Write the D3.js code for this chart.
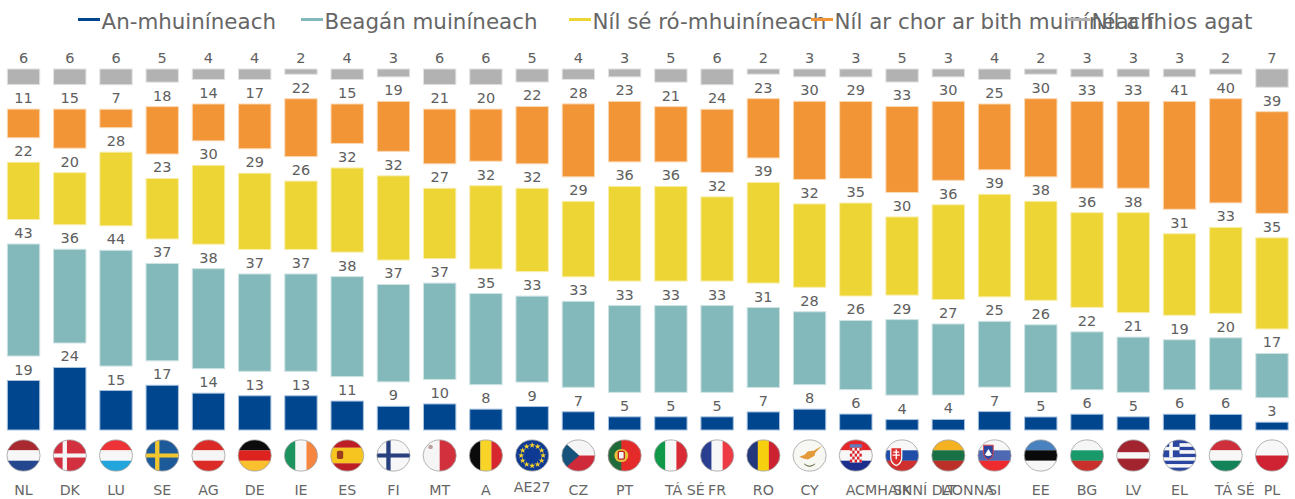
<!DOCTYPE html>
<html><head><meta charset="utf-8">
<script src="https://cdnjs.cloudflare.com/ajax/libs/d3/7.8.5/d3.min.js"></script>
<style>html,body{margin:0;padding:0;background:#fff}svg{display:block}text{font-family:"DejaVu Sans",Verdana,sans-serif}</style>
</head><body><svg id="c" width="1295" height="499"></svg>
<script>
const categories=["NL","DK","LU","SE","AG","DE","IE","ES","FI","MT","A","AE27","CZ","PT","TÁ SÉ","FR","RO","CY","ACMHAINNÍ DAONNA","SK","LT","SI","EE","BG","LV","EL","TÁ SÉ","PL"];
const flagCodes=["nl","dk","lu","se","at","de","ie","es","fi","mt","be","eu","cz","pt","it","fr","ro","cy","hr","sk","lt","si","ee","bg","lv","el","hu","pl"];
const seriesNames=["An-mhuiníneach","Beagán muiníneach","Níl sé ró-mhuiníneach","Níl ar chor ar bith muiníneach","Níl a fhios agat"];
const blue=[19,24,15,17,14,13,13,11,9,10,8,9,7,5,5,5,7,8,6,4,4,7,5,6,5,6,6,3];
const teal=[43,36,44,37,38,37,37,38,37,37,35,33,33,33,33,33,31,28,26,29,27,25,26,22,21,19,20,17];
const yellow=[22,20,28,23,30,29,26,32,32,27,32,32,29,36,36,32,39,32,35,30,36,39,38,36,38,31,33,35];
const orange=[11,15,7,18,14,17,22,15,19,21,20,22,28,23,21,24,23,30,29,33,30,25,30,33,33,41,40,39];
const grey=[6,6,6,5,4,4,2,4,3,6,6,5,4,3,5,6,2,3,3,5,3,4,2,3,3,3,2,7];
const seriesValues=[blue,teal,yellow,orange,grey];
const colors=["#00468f","#84b9bb","#eed536","#f29537","#b2b2b2"];
const edge=["#a9c3df","#cfe3e4","#f8eeae","#fad9b4","#e2e2e2"];
const legendKeyStart=[78,301,569,811,1068];
const labelShift={14:14,18:64,26:9};

const svg=d3.select("#c");
const GAP=9.3;
const x=d3.scaleBand().domain(d3.range(categories.length)).range([0.4,1295.1]).paddingInner(0.3).paddingOuter(0.15);
const y=d3.scaleLinear().domain([0,100+4*GAP]).range([430,69]);
const ink="#5e5e5e";

// stacks
categories.forEach((c,i)=>{
  const vals=seriesValues.map(s=>s[i]);
  const tot=d3.sum(vals);
  let base=0;
  vals.forEach((v,s)=>{
    const h=v*100/tot;
    const top=y(base+h), bot=y(base);
    svg.append("rect").attr("x",x(i)).attr("y",top).attr("width",x.bandwidth()).attr("height",bot-top)
      .attr("fill",colors[s]).attr("stroke",edge[s]).attr("stroke-width",1);
    svg.append("text").attr("x",x(i)+x.bandwidth()/2).attr("y",top-6).attr("text-anchor","middle")
      .attr("font-size",14.5).attr("fill",ink).text(v);
    base+=h+GAP;
  });
});

// legend
const lg=svg.append("g");
seriesNames.forEach((n,i)=>{
  const k=legendKeyStart[i];
  lg.append("text").attr("x",k+23.5).attr("y",29).attr("font-size",21.4).attr("fill","#666").text(n);
});
seriesNames.forEach((n,i)=>{
  const k=legendKeyStart[i];
  lg.append("line").attr("x1",k).attr("x2",k+22).attr("y1",19.5).attr("y2",19.5).attr("stroke",colors[i]).attr("stroke-width",3);
});

// flags
const RX=16.6, RY=15.6, FY=455.5;
const defs=svg.append("defs");
const box=(g,c)=>g.append("rect").attr("x",-1).attr("y",-1).attr("width",2).attr("height",2).attr("fill",c);
const hs=(g,cols,ws)=>{const W=ws||cols.map(()=>1),T=d3.sum(W);let a=-1;cols.forEach((c,i)=>{const h=2*W[i]/T;g.append("rect").attr("x",-1).attr("y",a).attr("width",2).attr("height",h+.01).attr("fill",c);a+=h;});};
const vs=(g,cols)=>{cols.forEach((c,i)=>{const w=2/cols.length;g.append("rect").attr("x",-1+i*w).attr("y",-1).attr("width",w+.01).attr("height",2).attr("fill",c);});};
const cross=(g,bg,inn,cx)=>{
  box(g,bg);
  g.append("rect").attr("x",-1).attr("y",-.13).attr("width",2).attr("height",.26).attr("fill",inn);
  g.append("rect").attr("x",cx-.13).attr("y",-1).attr("width",.26).attr("height",2).attr("fill",inn);
};
const shapes={
 nl:g=>hs(g,["#a82a30","#f7f7f7","#24478f"]),
 dk:g=>cross(g,"#d22f3f","#f5f5f5",-.3),
 lu:g=>hs(g,["#ee3338","#f7f7f7","#22a5dc"]),
 se:g=>cross(g,"#1c5a9a","#f2c62e",-.3),
 at:g=>hs(g,["#dc2b26","#f5f5f5","#dc2b26"]),
 de:g=>hs(g,["#0c0c0c","#dc2320","#fbc02d"]),
 ie:g=>vs(g,["#1d9460","#f7f7f7","#f58540"]),
 es:g=>{hs(g,["#bd1e25","#f7c51f","#bd1e25"],[1,2,1]);g.append("rect").attr("x",-.62).attr("y",-.3).attr("width",.38).attr("height",.52).attr("rx",.1).attr("fill","#9a3b1e");},
 fi:g=>cross(g,"#f7f7f7","#28407e",-.3),
 mt:g=>{vs(g,["#f5f5f5","#d2303c"]);g.append("circle").attr("cx",-.55).attr("cy",-.55).attr("r",.14).attr("fill","#b9a0a0");},
 be:g=>vs(g,["#0b0b0b","#f8d428","#d8282f"]),
 eu:g=>{box(g,"#0f3a94");
   const st=d3.symbol().type(d3.symbolStar).size(.045);
   d3.range(12).forEach(k=>{const a=k*Math.PI/6;g.append("path").attr("d",st()).attr("transform",`translate(${.66*Math.cos(a)},${.66*Math.sin(a)})`).attr("fill","#f5d02c");});},
 cz:g=>{hs(g,["#f5f5f5","#cf2a3a"]);g.append("path").attr("d","M-1,-1L.05,0L-1,1Z").attr("fill","#15527c");},
 pt:g=>{box(g,"#e52a2a");g.append("rect").attr("x",-1).attr("y",-1).attr("width",.8).attr("height",2).attr("fill","#1f6b3a");
   g.append("circle").attr("cx",-.2).attr("r",.42).attr("fill","#e9c23c");
   g.append("rect").attr("x",-.38).attr("y",-.26).attr("width",.36).attr("height",.5).attr("rx",.08).attr("fill","#f2f2f2").attr("stroke","#b22").attr("stroke-width",.08);},
 it:g=>vs(g,["#11994a","#f7f7f7","#d92b35"]),
 fr:g=>vs(g,["#2a3f8f","#f7f7f7","#ee3a45"]),
 ro:g=>vs(g,["#23387c","#f6d00f","#cb2130"]),
 cy:g=>{box(g,"#f7f7f4");
   g.append("path").attr("d","M-.62,.08L-.3,-.05L-.1,-.28L.25,-.3L.75,-.62L.35,-.2L.3,.02L-.1,.25L-.38,.2Z").attr("fill","#e39a3a");
   g.append("path").attr("d","M-.35,.5Q0,.8.35,.5L.3,.6Q0,.85-.3,.6Z").attr("fill","#5b6b3a");},
 hr:g=>{hs(g,["#e5262b","#f7f7f7","#1c2f8f"]);
   g.append("rect").attr("x",-.36).attr("y",-.5).attr("width",.72).attr("height",.95).attr("fill","#f5f5f5");
   d3.range(5).forEach(r=>d3.range(5).forEach(c=>{if((r+c)%2==0)g.append("rect").attr("x",-.36+c*.144).attr("y",-.5+r*.19).attr("width",.144).attr("height",.19).attr("fill","#d8232a");}));
   g.append("rect").attr("x",-.36).attr("y",-.72).attr("width",.72).attr("height",.2).attr("fill","#5a7cc0");},
 sk:g=>{hs(g,["#f7f7f7","#1f4ea8","#cf2f2f"]);g.append("path").attr("d","M-.68,-.5H-.02V.15Q-.02,.5-.35,.65Q-.68,.5-.68,.15Z").attr("fill","#dc2f2f").attr("stroke","#f7f7f7").attr("stroke-width",.08);
   g.append("path").attr("d","M-.39,-.38h.08v.12h.14v.09h-.14v.1h.18v.09h-.18v.22h-.08v-.22h-.18v-.09h.18v-.1h-.14v-.09h.14z").attr("fill","#fff");},
 lt:g=>hs(g,["#f4b222","#187045","#bb3028"]),
 si:g=>{hs(g,["#f7f7f7","#4f68b4","#ee2c2f"]);g.append("path").attr("d","M-.66,-.66H-.08V-.1Q-.08,.15-.37,.28Q-.66,.15-.66,-.1Z").attr("fill","#2c47a0").attr("stroke","#d44").attr("stroke-width",.06);
   g.append("path").attr("d","M-.58,-.05L-.37,-.42L-.16,-.05Q-.37,.1-.58,-.05Z").attr("fill","#fff");},
 ee:g=>hs(g,["#4a82bf","#0a0a0a","#f7f7f7"]),
 bg:g=>hs(g,["#f6f6f6","#189a6b","#c9302c"]),
 lv:g=>hs(g,["#a2242f","#f7f7f7","#a2242f"],[2,1,2]),
 el:g=>{const cols=["#2a46a0","#f7f7f7"];d3.range(9).forEach(k=>g.append("rect").attr("x",-1).attr("y",-1+k*2/9).attr("width",2).attr("height",.23).attr("fill",cols[k%2]));
   g.append("rect").attr("x",-1).attr("y",-1).attr("width",1).attr("height",1.11).attr("fill","#2a46a0");
   g.append("rect").attr("x",-.62).attr("y",-1).attr("width",.22).attr("height",1.11).attr("fill","#f7f7f7");
   g.append("rect").attr("x",-1).attr("y",-.55).attr("width",1).attr("height",.22).attr("fill","#f7f7f7");},
 hu:g=>hs(g,["#cf2f3b","#f7f7f7","#13835a"]),
 pl:g=>hs(g,["#f7f7f7","#cf2233"])
};
flagCodes.forEach((code,i)=>{
  const cx=x(i)+x.bandwidth()/2;
  defs.append("clipPath").attr("id","f"+i).append("circle").attr("r",1);
  const o=svg.append("g").attr("transform",`translate(${cx},${FY}) scale(${RX},${RY})`);
  const g=o.append("g").attr("clip-path",`url(#f${i})`);
  shapes[code](g);
  o.append("circle").attr("r",1).attr("fill","none").attr("stroke","#a0a0a0").attr("stroke-width",.05);
});

// category labels
categories.forEach((c,i)=>{
  svg.append("text").attr("x",x(i)+x.bandwidth()/2+(labelShift[i]||0)).attr("y",c==="AE27"?492:495)
    .attr("text-anchor","middle").attr("font-size",14.2).attr("fill","#666").text(c);
});
</script></body></html>
